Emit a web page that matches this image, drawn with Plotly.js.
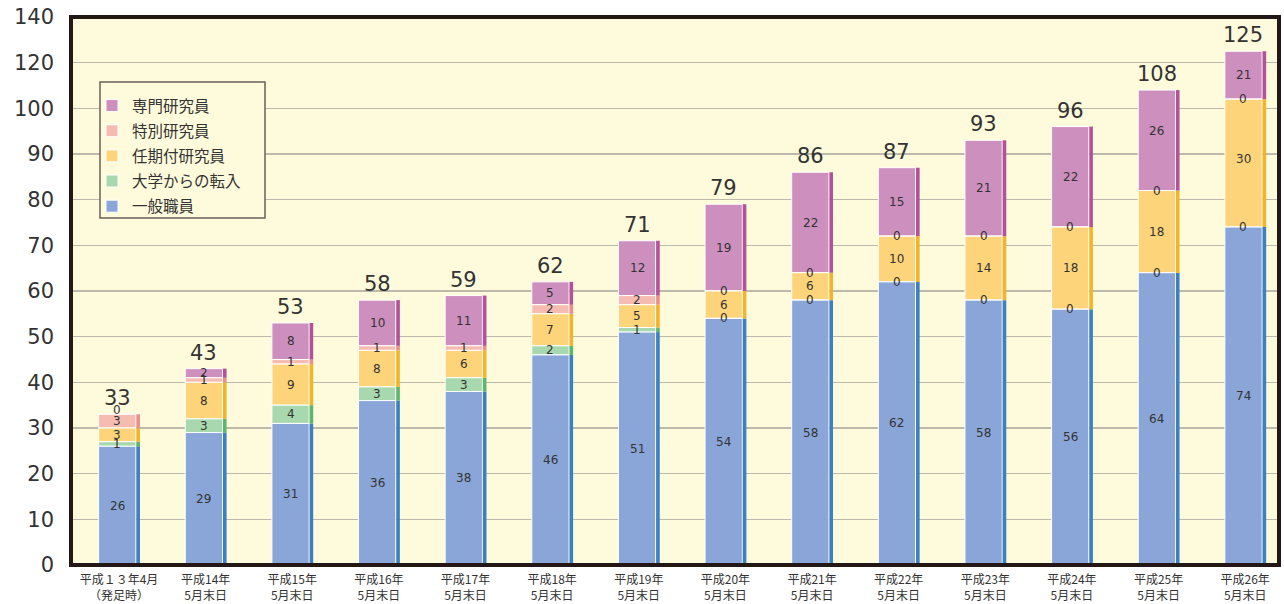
<!DOCTYPE html>
<html>
<head>
<meta charset="utf-8">
<script src="https://cdn.plot.ly/plotly-3.0.1.min.js"></script>
<style>html,body{margin:0;padding:0;background:#fff;}#chart{width:1284px;height:604px;}</style>
</head>
<body>
<div id="chart"></div>
<script>
const categories = ['平成１３年4月<br>（発足時）','平成14年<br>5月末日','平成15年<br>5月末日','平成16年<br>5月末日','平成17年<br>5月末日','平成18年<br>5月末日','平成19年<br>5月末日','平成20年<br>5月末日','平成21年<br>5月末日','平成22年<br>5月末日','平成23年<br>5月末日','平成24年<br>5月末日','平成25年<br>5月末日','平成26年<br>5月末日'];
const general   = [26,29,31,36,38,46,51,54,58,62,58,56,64,74];
const transfer  = [1,3,4,3,3,2,1,0,0,0,0,0,0,0];
const fixedTerm = [3,8,9,8,6,7,5,6,6,10,14,18,18,30];
const special   = [3,1,1,1,1,2,2,0,0,0,0,0,0,0];
const expert    = [0,2,8,10,11,5,12,19,22,15,21,22,26,21];
const totals    = [33,43,53,58,59,62,71,79,86,87,93,96,108,125];
const yTickVals = [0,10,20,30,40,50,60,70,80,90,100,110,120];
const yTickText = ['0','10','20','30','40','50','60','70','80','90','100','120','140'];

// axis scale: linear up to 100, compressed 2:1 above (as the reference axis labels show)
const pos = v => v <= 100 ? v : 100 + (v - 100) / 2;

const series = [
  {name:'一般職員', data:general, color:'#8aa5d7', side:'#3b80c2'},
  {name:'大学からの転入', data:transfer, color:'#a8d8ae', side:'#5db56f'},
  {name:'任期付研究員', data:fixedTerm, color:'#fdd47a', side:'#f2b428'},
  {name:'特別研究員', data:special, color:'#f6bcb2', side:'#ec8f8a'},
  {name:'専門研究員', data:expert, color:'#cd8fbe', side:'#b4519b'}
];

const xs = categories.map((c,i)=>i);
const cum = xs.map(()=>0);
const traces = [];
const sideTraces = [];
const annotations = [];
const numFont = 'DejaVu Sans, Noto Sans CJK JP, sans-serif';

series.forEach((s, k) => {
  const base = xs.map(i => pos(cum[i]));
  const h = xs.map(i => pos(cum[i] + s.data[i]) - pos(cum[i]));
  traces.push({
    type:'bar', name:s.name, x:xs, y:h, base:base,
    width:0.43, offset:-0.235,
    marker:{color:s.color, line:{color:'#ffffff', width:1}},
    legendgroup:'g'+k, hoverinfo:'skip'
  });
  sideTraces.push({
    type:'bar', name:s.name+'side', x:xs, y:h, base:base,
    width:0.042, offset:0.2, showlegend:false,
    marker:{color:s.side, line:{width:0}}, hoverinfo:'skip'
  });
  xs.forEach(i => {
    const v = s.data[i];
    const yy = v > 0 ? pos(cum[i] + v/2) : pos(cum[i]);
    const isTopZero = (v === 0 && k === series.length - 1);
    annotations.push({x:i-0.02, y:yy, xref:'x', yref:'y', text:String(v), showarrow:false,
      yshift: isTopZero ? 4 : 0,
      borderpad:0, font:{family:numFont, size:12, color:'#333333'}});
    cum[i] += v;
  });
});

totals.forEach((t,i) => {
  annotations.push({x:i-0.02, y:pos(t), xref:'x', yref:'y', text:String(t), showarrow:false,
    yanchor:'bottom', yshift:2, font:{family:numFont, size:21, color:'#333333'}});
});

// legend box geometry in pixels -> paper
const L = 71, R = 1279, T = 17, B = 565;
const px = x => (x - L) / (R - L);
const py = y => (B - y) / (B - T);

const layout = {
  width:1284, height:604,
  margin:{l:71, r:5, t:17, b:39},
  paper_bgcolor:'#ffffff', plot_bgcolor:'#fefbdd',
  barmode:'overlay',
  showlegend:true,
  legend:{x:px(92), y:py(89), xanchor:'left', yanchor:'top', bgcolor:'rgba(0,0,0,0)', borderwidth:0,
    traceorder:'grouped', tracegroupgap:2,
    font:{family:'Noto Sans CJK JP, sans-serif', size:15.5, color:'#333333'}},
  xaxis:{range:[-0.554, 13.39], tickvals:xs, ticktext:categories, showgrid:false, zeroline:false,
    ticklabelstandoff:6,
    tickfont:{family:'Noto Sans CJK JP, sans-serif', size:12, color:'#333333'}, ticks:'', fixedrange:true},
  yaxis:{range:[0,120], tickvals:yTickVals, ticktext:yTickText, showgrid:true, gridcolor:'#bdb9ab', gridwidth:1.5,
    zeroline:false, ticks:'', ticklabelstandoff:16,
    tickfont:{family:numFont, size:21, color:'#333333'}, fixedrange:true},
  shapes:[
    {type:'rect', xref:'paper', yref:'paper', x0:px(100), x1:px(265), y0:py(218), y1:py(82),
      fillcolor:'#fefbdd', line:{color:'#6b6058', width:1.5}, layer:'above'},
    {type:'rect', xref:'paper', yref:'paper', x0:0, x1:1, y0:0, y1:1,
      line:{color:'#231815', width:4}, layer:'above'}
  ],
  annotations:annotations
};

// legend lists the top segment first
Plotly.newPlot('chart', traces.slice().reverse().concat(sideTraces), layout, {displayModeBar:false, staticPlot:true});
</script>
</body>
</html>
